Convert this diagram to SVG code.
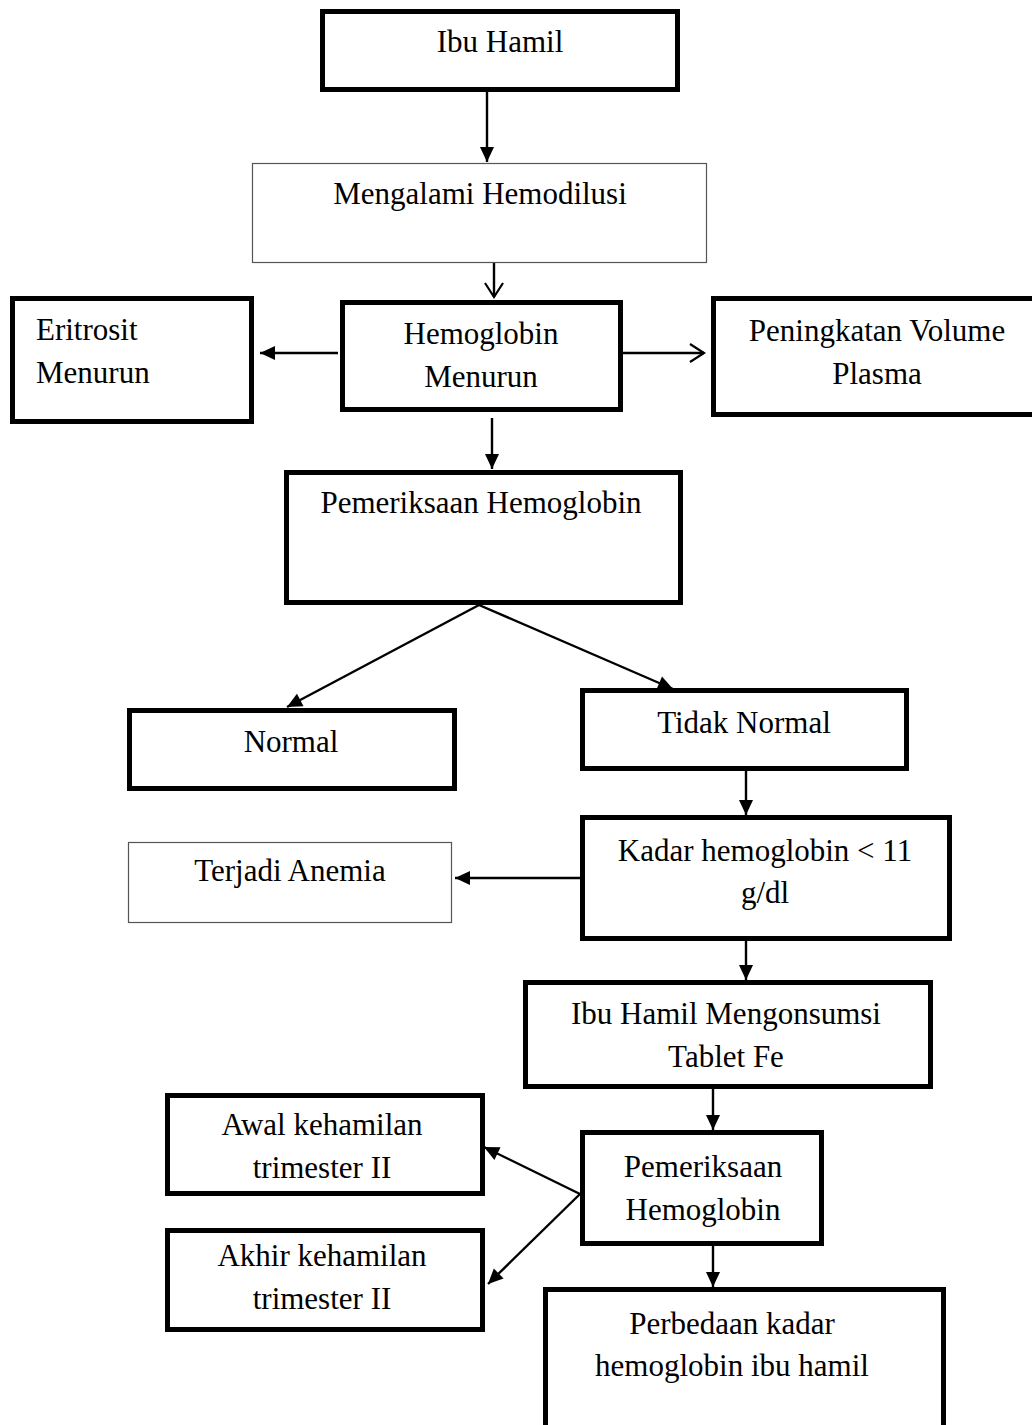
<svg xmlns="http://www.w3.org/2000/svg" width="1032" height="1425" viewBox="0 0 1032 1425">
<style>
.thick{fill:#fff;stroke:#000;stroke-width:5}
.thin{fill:#fff;stroke:#555;stroke-width:1.2}
text{font-family:"Liberation Serif","Times New Roman",serif;font-size:31px;fill:#000}
.c{text-anchor:middle}
.ln{stroke:#000;stroke-width:2.4;fill:none}
</style>
<defs>
<marker id="af" markerUnits="userSpaceOnUse" markerWidth="18" markerHeight="18" viewBox="0 0 18 18" refX="16" refY="9" orient="auto">
<path d="M1,2 L16,9 L1,16 Z" fill="#000"/>
</marker>
<marker id="ao" markerUnits="userSpaceOnUse" markerWidth="20" markerHeight="22" viewBox="0 0 20 22" refX="17" refY="11" orient="auto">
<path d="M3,2 L17,11 L3,20" fill="none" stroke="#000" stroke-width="2.2"/>
</marker>
</defs>
<g id="connectors">
<line class="ln" x1="487" y1="92" x2="487" y2="162" marker-end="url(#af)"/>
<line class="ln" x1="494" y1="263" x2="494" y2="297" marker-end="url(#ao)"/>
<line class="ln" x1="338" y1="353" x2="260" y2="353" marker-end="url(#af)"/>
<line class="ln" x1="622" y1="353" x2="704" y2="353" marker-end="url(#ao)"/>
<line class="ln" x1="492" y1="418" x2="492" y2="469" marker-end="url(#af)"/>
<line class="ln" x1="479" y1="605" x2="287" y2="707" marker-end="url(#af)"/>
<line class="ln" x1="479" y1="605" x2="673" y2="689" marker-end="url(#af)"/>
<line class="ln" x1="746" y1="770" x2="746" y2="815" marker-end="url(#af)"/>
<line class="ln" x1="580" y1="878" x2="455" y2="878" marker-end="url(#af)"/>
<line class="ln" x1="746" y1="940" x2="746" y2="980" marker-end="url(#af)"/>
<line class="ln" x1="713" y1="1088" x2="713" y2="1130" marker-end="url(#af)"/>
<line class="ln" x1="580" y1="1194" x2="484" y2="1147" marker-end="url(#af)"/>
<line class="ln" x1="580" y1="1194" x2="488" y2="1284" marker-end="url(#af)"/>
<line class="ln" x1="713" y1="1245" x2="713" y2="1287" marker-end="url(#af)"/>
</g>
<g id="n-ibu-hamil">
<rect class="thick" x="322.5" y="11.5" width="355" height="78"/>
<text class="c" x="500" y="52">Ibu Hamil</text>
</g>
<g id="n-hemodilusi">
<rect class="thin" x="252.5" y="163.5" width="454" height="99"/>
<text class="c" x="480" y="204">Mengalami Hemodilusi</text>
</g>
<g id="n-eritrosit">
<rect class="thick" x="12.5" y="298.5" width="239" height="123"/>
<text x="36" y="340">Eritrosit</text>
<text x="36" y="383">Menurun</text>
</g>
<g id="n-hemoglobin-menurun">
<rect class="thick" x="342.5" y="302.5" width="278" height="107"/>
<text class="c" x="481" y="344">Hemoglobin</text>
<text class="c" x="481" y="387">Menurun</text>
</g>
<g id="n-plasma">
<rect class="thick" x="713.5" y="298.5" width="325" height="116"/>
<text class="c" x="877" y="341">Peningkatan Volume</text>
<text class="c" x="877" y="384">Plasma</text>
</g>
<g id="n-pemeriksaan-1">
<rect class="thick" x="286.5" y="472.5" width="394" height="130"/>
<text class="c" x="481" y="513">Pemeriksaan Hemoglobin</text>
</g>
<g id="n-normal">
<rect class="thick" x="129.5" y="710.5" width="325" height="78"/>
<text class="c" x="291" y="752">Normal</text>
</g>
<g id="n-tidak-normal">
<rect class="thick" x="582.5" y="690.5" width="324" height="78"/>
<text class="c" x="744" y="733">Tidak Normal</text>
</g>
<g id="n-kadar">
<rect class="thick" x="582.5" y="817.5" width="367" height="121"/>
<text class="c" x="765" y="861">Kadar hemoglobin &lt; 11</text>
<text class="c" x="765" y="903">g/dl</text>
</g>
<g id="n-anemia">
<rect class="thin" x="128.5" y="842.5" width="323" height="80"/>
<text class="c" x="290" y="881">Terjadi Anemia</text>
</g>
<g id="n-tablet-fe">
<rect class="thick" x="525.5" y="982.5" width="405" height="104"/>
<text class="c" x="726" y="1024">Ibu Hamil Mengonsumsi</text>
<text class="c" x="726" y="1067">Tablet Fe</text>
</g>
<g id="n-pemeriksaan-2">
<rect class="thick" x="582.5" y="1132.5" width="239" height="111"/>
<text class="c" x="703" y="1177">Pemeriksaan</text>
<text class="c" x="703" y="1220">Hemoglobin</text>
</g>
<g id="n-awal">
<rect class="thick" x="167.5" y="1095.5" width="315" height="98"/>
<text class="c" x="322" y="1135">Awal kehamilan</text>
<text class="c" x="322" y="1178">trimester II</text>
</g>
<g id="n-akhir">
<rect class="thick" x="167.5" y="1230.5" width="315" height="99"/>
<text class="c" x="322" y="1266">Akhir kehamilan</text>
<text class="c" x="322" y="1309">trimester II</text>
</g>
<g id="n-perbedaan">
<rect class="thick" x="545.5" y="1289.5" width="398" height="145"/>
<text class="c" x="732" y="1334">Perbedaan kadar</text>
<text class="c" x="732" y="1376">hemoglobin ibu hamil</text>
</g>
</svg>
